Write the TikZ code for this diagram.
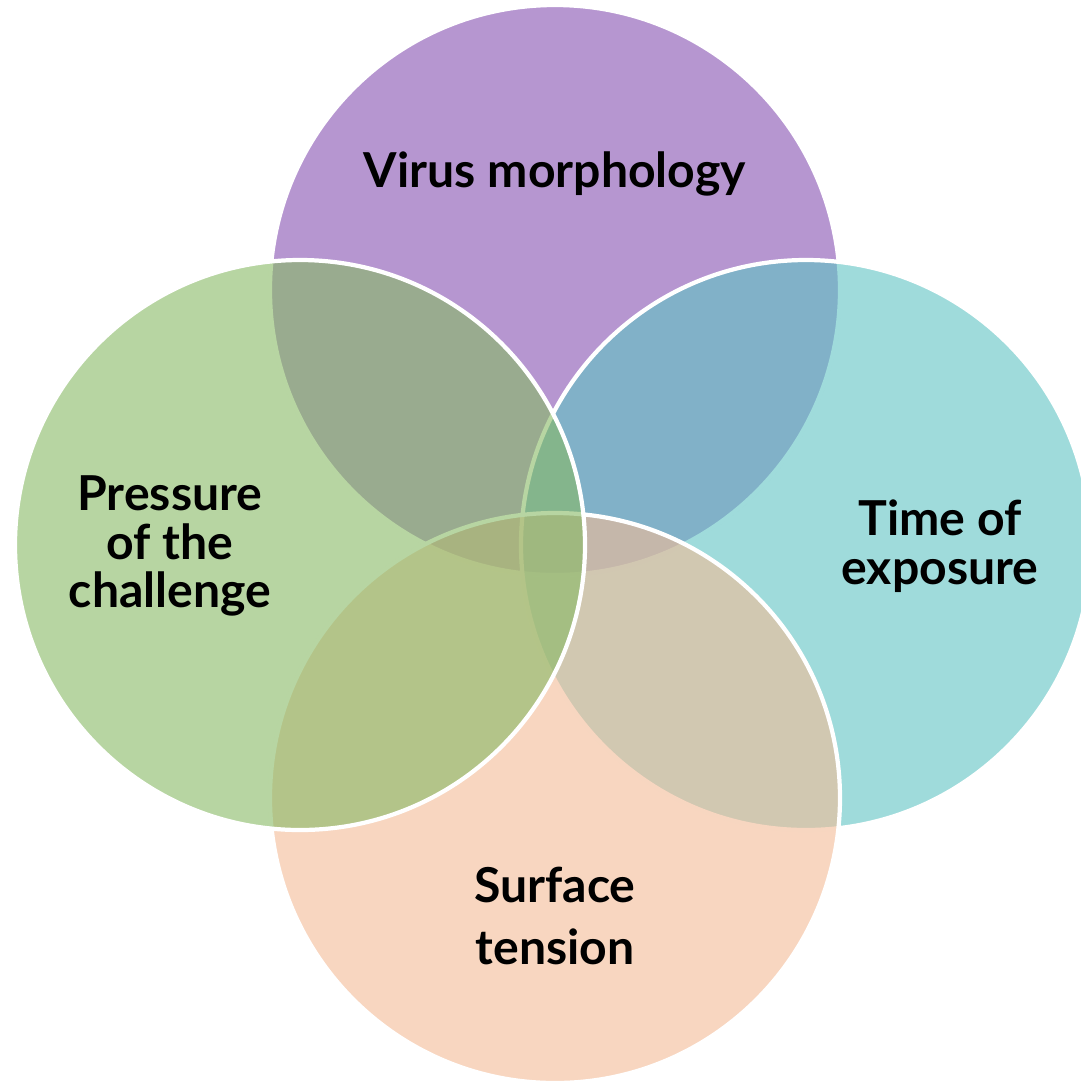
\documentclass[tikz,border=0pt]{standalone}
\usepackage{fontspec}
\setmainfont{Lato}
\usetikzlibrary{positioning}

\definecolor{virus}{RGB}{133,80,177}
\definecolor{press}{RGB}{135,185,100}
\definecolor{expo}{RGB}{95,195,195}
\definecolor{surf}{RGB}{243,187,150}

\tikzset{
  venn/.style={circle, draw=white, line width=1.2pt, fill opacity=0.6,
    minimum size=5.7cm, inner sep=0pt},
  vlabel/.style={align=center, font=\fontsize{13.7}{13.8}\selectfont\bfseries}
}

\begin{document}
\begin{tikzpicture}
      \useasboundingbox (0,0) rectangle (10.81,-10.84);
      \clip (0,0) rectangle (10.81,-10.84);

      % the four circles, back to front
      \node[venn, fill=virus] (top) at (5.55,-2.90) {};
      \node[venn, fill=expo] (right) at (8.06,-5.45) {};
      \node[venn, fill=surf] (bottom) at (5.55,-7.98) {};
      \node[venn, fill=press] (left) at (3.00,-5.45) {};

      % labels
      \node[vlabel] (tlabel) at (5.55,-1.74) {Virus morphology};
      \node[vlabel] (llabel) at (1.70,-5.46) {Pressure\\of the\\challenge};
      \node[vlabel] (rlabel) at (9.40,-5.46) {Time of\\exposure};
      \node[vlabel] (blabel) at (5.55,-9.16) {Surface\\[4pt]tension};
    \end{tikzpicture}
\end{document}
